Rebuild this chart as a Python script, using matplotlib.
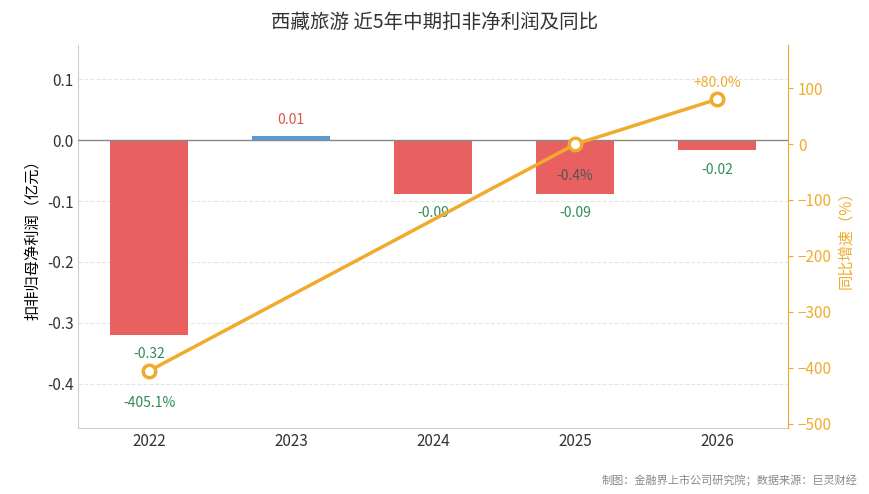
import numpy as np
import matplotlib.pyplot as plt

plt.rcParams['font.family'] = ['Noto Sans CJK SC', 'DejaVu Sans']

years = ['2022', '2023', '2024', '2025', '2026']
profit = [-0.32, 0.007, -0.088, -0.088, -0.017]
profit_labels = ['-0.32', '0.01', '-0.09', '-0.09', '-0.02']
growth_years = [0, 3, 4]
growth = [-405.1, -0.4, 80.0]
growth_labels = ['-405.1%', '-0.4%', '+80.0%']

red = '#e8605f'
blue = '#5b9bd5'
orange = '#f0ab2e'
green = '#2e8b57'

fig = plt.figure(figsize=(8.7, 4.94), dpi=100)
ax = fig.add_axes([0.09, 0.134, 0.816, 0.775])
x = np.arange(len(years))
colors = [blue if v > 0 else red for v in profit]
ax.bar(x, profit, width=0.55, color=colors, zorder=2)
ax.axhline(0, color='#888888', lw=1, zorder=3)
ax.set_ylim(-0.472, 0.156)
ax.set_xlim(-0.5, 4.5)
ax.set_xticks(x)
ax.set_xticklabels(years, fontsize=11, color='#333333')
ax.set_yticks([-0.4, -0.3, -0.2, -0.1, 0.0, 0.1])
ax.set_yticklabels(['-0.4', '-0.3', '-0.2', '-0.1', '0.0', '0.1'], fontsize=11, color='#333333')
ax.grid(axis='y', ls='--', color='#e6e6e6', zorder=0)
ax.set_ylabel('扣非归母净利润（亿元）', fontsize=11)
for s in ['top', 'right']:
    ax.spines[s].set_visible(False)
ax.spines['left'].set_color('#cccccc')
ax.spines['bottom'].set_color('#cccccc')
ax.tick_params(length=0)
for xi, v, t in zip(x, profit, profit_labels):
    if v > 0:
        ax.text(xi, v + 0.015, t, ha='center', va='bottom', color='#d9534f', fontsize=10)
    else:
        ax.text(xi, v - 0.02, t, ha='center', va='top', color=green, fontsize=10)

ax2 = ax.twinx()
ax2.plot(growth_years, growth, color=orange, lw=2.5, marker='o', ms=9,
         mfc='white', mec=orange, mew=2.5, zorder=5)
ax2.set_ylim(-507, 177)
ax2.set_yticks([-500, -400, -300, -200, -100, 0, 100])
ax2.tick_params(axis='y', colors=orange, labelsize=11)
ax2.set_ylabel('同比增速（%）', color=orange, fontsize=11)
for s in ['top', 'left', 'bottom']:
    ax2.spines[s].set_visible(False)
ax2.spines['right'].set_color(orange)
ax2.text(0, -405.1 - 45, growth_labels[0], ha='center', va='top', color=green, fontsize=10)
ax2.text(3, -0.4 - 45, growth_labels[1], ha='center', va='top', color='#555555', fontsize=10)
ax2.text(4, 80 + 17, growth_labels[2], ha='center', va='bottom', color=orange, fontsize=10)

fig.suptitle('西藏旅游 近5年中期扣非净利润及同比', y=0.975, fontsize=14, color='#333333')
fig.text(0.985, 0.02, '制图：金融界上市公司研究院；数据来源：巨灵财经', ha='right', fontsize=8, color='#888888')
fig.savefig('out.png', dpi=100)
